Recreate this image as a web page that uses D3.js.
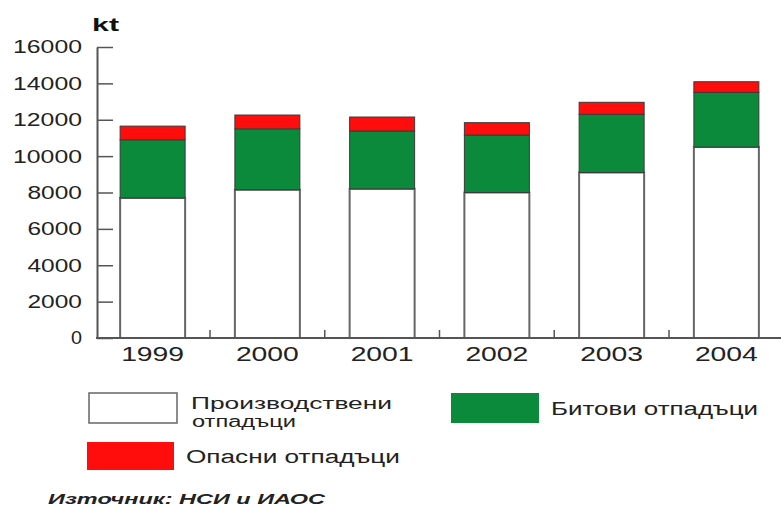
<!DOCTYPE html>
<html>
<head>
<meta charset="utf-8">
<script src="https://cdn.jsdelivr.net/npm/d3@7"></script>
<style>
  html, body { margin: 0; padding: 0; background: #fff; }
  svg { display: block; font-family: "Liberation Sans", Arial, sans-serif; }
</style>
</head>
<body>
<svg id="chart" width="781" height="507"></svg>
<script>
const years = ["1999", "2000", "2001", "2002", "2003", "2004"];
const industrial = [7700, 8150, 8200, 8000, 9100, 10500];
const household = [3200, 3350, 3180, 3160, 3200, 3010];
const hazardous = [750, 760, 770, 680, 660, 580];
const yTicks = [0, 2000, 4000, 6000, 8000, 10000, 12000, 14000, 16000];
const seriesKeys = ["industrial", "household", "hazardous"];
const seriesLabels = ["Производствени отпадъци", "Битови отпадъци", "Опасни отпадъци"];
const seriesColors = ["#ffffff", "#0b8a3b", "#ff0c0c"];
const unitLabel = "kt";
const sourceLabel = "Източник: НСИ и ИАОС";

const svg = d3.select("#chart");
const textColor = "#222";

const table = years.map((yr, i) => ({
  year: yr, industrial: industrial[i], household: household[i], hazardous: hazardous[i]
}));
const stacked = d3.stack().keys(seriesKeys)(table);

const x = d3.scaleBand().domain(years).range([95.25, 783.75])
  .paddingInner(0.4336).paddingOuter(0.2168);
const y = d3.scaleLinear().domain([0, 16000]).range([338, 47]);
const color = d3.scaleOrdinal().domain(seriesKeys).range(seriesColors);

// bars
svg.append("g").selectAll("g").data(stacked).join("g")
  .attr("fill", d => color(d.key))
  .selectAll("rect").data(d => d.map(v => Object.assign(v, { key: d.key }))).join("rect")
  .attr("x", d => x(d.data.year))
  .attr("y", d => y(d[1]))
  .attr("width", x.bandwidth())
  .attr("height", d => y(d[0]) - y(d[1]))
  .attr("stroke", d => d.key === "industrial" ? "#666" : "#3a3a3a")
  .attr("stroke-width", d => d.key === "industrial" ? 2 : 1);

// y axis
const yAxis = svg.append("g").attr("transform", "translate(97,0)")
  .call(d3.axisLeft(y).tickValues(yTicks).tickFormat(d => String(d))
    .tickSizeInner(-16).tickSizeOuter(0).tickPadding(15));
yAxis.select(".domain").attr("stroke", "#555").attr("stroke-width", 2);
yAxis.selectAll(".tick line").attr("stroke", "#555").attr("stroke-width", 1.5);
yAxis.selectAll(".tick text")
  .attr("fill", textColor).attr("font-size", 18.5)
  .attr("textLength", d => String(d).length * 14.5 - 3.5)
  .attr("lengthAdjust", "spacingAndGlyphs");

// x axis
const xAxis = svg.append("g").attr("transform", "translate(0,338)")
  .call(d3.axisBottom(x).tickSize(0).tickPadding(0));
xAxis.select(".domain").remove();
xAxis.selectAll(".tick text")
  .attr("fill", textColor).attr("font-size", 20)
  .attr("y", 23).attr("dy", 0)
  .attr("textLength", 63).attr("lengthAdjust", "spacingAndGlyphs");
svg.append("line")
  .attr("x1", 96).attr("x2", 781).attr("y1", 338).attr("y2", 338)
  .attr("stroke", "#555").attr("stroke-width", 2);
// separators between bands
svg.append("g").selectAll("line").data(years.slice(1)).join("line")
  .attr("x1", d => x(d) - x.step() * x.paddingInner() / 2)
  .attr("x2", d => x(d) - x.step() * x.paddingInner() / 2)
  .attr("y1", 338).attr("y2", 330)
  .attr("stroke", "#555").attr("stroke-width", 1.5);

// unit label
svg.append("text").attr("x", 92).attr("y", 31)
  .attr("font-size", 19).attr("font-weight", "bold").attr("fill", "#111")
  .attr("textLength", 27).attr("lengthAdjust", "spacingAndGlyphs")
  .text(unitLabel);

// legend
const legend = svg.append("g");
const boxes = [
  { key: "industrial", x: 89, y: 393, w: 88, h: 30 },
  { key: "household", x: 451, y: 393, w: 88, h: 30 },
  { key: "hazardous", x: 87, y: 442, w: 87, h: 28 }
];
legend.selectAll("rect").data(boxes).join("rect")
  .attr("x", d => d.x).attr("y", d => d.y).attr("width", d => d.w).attr("height", d => d.h)
  .attr("fill", d => color(d.key))
  .attr("stroke", d => d.key === "industrial" ? "#666" : "none")
  .attr("stroke-width", 1.5);

const lbl = (txt, lx, ly, len, fs) => legend.append("text")
  .attr("x", lx).attr("y", ly).attr("font-size", fs).attr("fill", textColor)
  .attr("textLength", len).attr("lengthAdjust", "spacingAndGlyphs").text(txt);
const w0 = seriesLabels[0].split(" ");
lbl(w0[0], 191, 409, 201, 16);
lbl(w0[1], 192, 427, 104, 16);
lbl(seriesLabels[1], 551, 415, 207, 18);
lbl(seriesLabels[2], 186, 463, 214, 18);

// source
svg.append("text").attr("x", 48).attr("y", 504)
  .attr("font-size", 15.5).attr("font-weight", "bold").attr("font-style", "italic")
  .attr("fill", "#222")
  .attr("textLength", 277).attr("lengthAdjust", "spacingAndGlyphs")
  .text(sourceLabel);
</script>
</body>
</html>
